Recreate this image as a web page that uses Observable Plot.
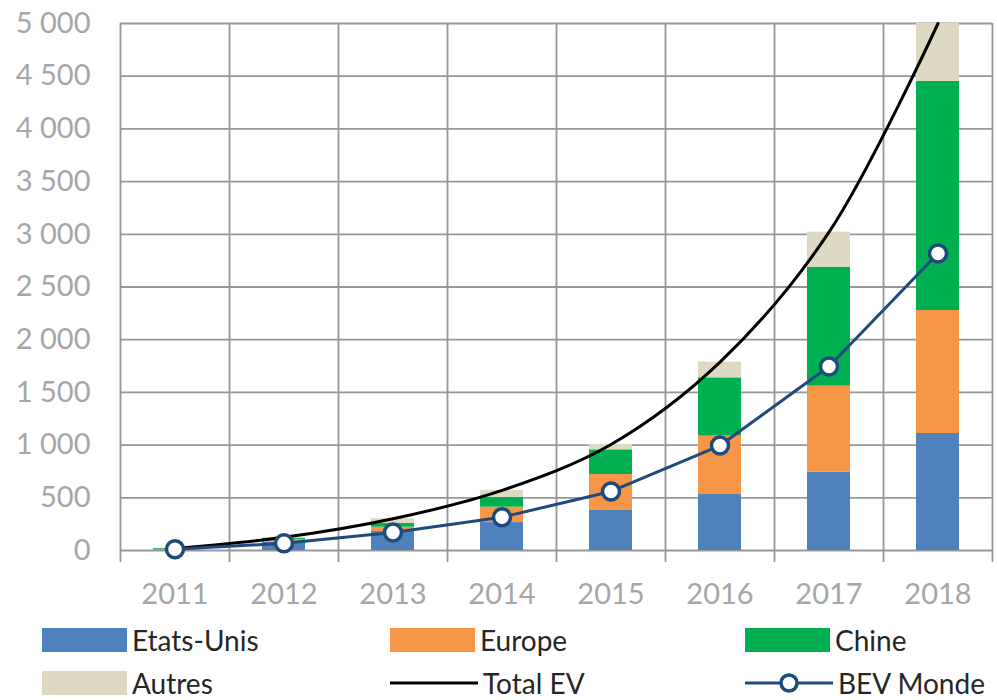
<!DOCTYPE html>
<html>
<head>
<meta charset="utf-8">
<script src="https://cdn.jsdelivr.net/npm/d3@7"></script>
<script src="https://cdn.jsdelivr.net/npm/@observablehq/plot@0.6"></script>
<style>
  html, body { margin: 0; padding: 0; background: white; }
  #wrap { position: relative; width: 997px; height: 700px; overflow: hidden; font-family: Lato, sans-serif; }
  #chart svg { display: block; }
  .leg { position: absolute; height: 28px; display: flex; align-items: center; font-size: 28px; line-height: 28px; color: #262626; white-space: nowrap; }
  .leg svg { display: block; margin-right: 5px; }
</style>
</head>
<body>
<div id="wrap">
  <div id="chart"></div>
  <div id="legend"></div>
</div>
<script>
// ---- Data (thousands of vehicles) ----
const years = ["2011", "2012", "2013", "2014", "2015", "2016", "2017", "2018"];
const etatsUnis = [6, 80, 180, 265, 380, 531, 743, 1110];
const europe    = [4, 25, 41, 146, 341, 554, 816, 1167];
const chine     = [8, 10, 35, 94, 234, 553, 1129, 2173];
const autres    = [2, 10, 45, 65, 51, 149, 332, 550];
const totalEV   = [20, 125, 301, 570, 1006, 1787, 3020, 5000];
const bevMonde  = [12, 69, 171, 316, 560, 996, 1746, 2818];
const yTicks    = [0, 500, 1000, 1500, 2000, 2500, 3000, 3500, 4000, 4500, 5000];

const seriesNames  = ["Etats-Unis", "Europe", "Chine", "Autres"];
const seriesColors = ["#4f81bd", "#f79646", "#00b050", "#ddd9c3"];
const seriesValues = [etatsUnis, europe, chine, autres];

const stackData = seriesNames.flatMap((s, si) =>
  years.map((y, i) => ({year: y, serie: s, value: seriesValues[si][i]})));
const lineData = years.map((y, i) => ({year: y, total: totalEV[i], bev: bevMonde[i]}));

const W = 997, H = 610, ML = 120, MR = 5, MT = 23, MB = 60;
const bw = (W - ML - MR) / years.length;
const gridColor = "#979797";
const tickColor = "#a6a6a6";
const bevColor = "#1f4a7c";
const fmt = d => d3.format(",")(d).replace(/,/g, " ");

const chart = Plot.plot({
  width: W, height: H,
  marginLeft: ML, marginRight: MR, marginTop: MT, marginBottom: MB,
  style: {fontFamily: "Lato, sans-serif", background: "white", overflow: "visible"},
  x: {domain: years, padding: 0, axis: null},
  y: {domain: [0, 5000], axis: null},
  color: {domain: seriesNames, range: seriesColors},
  marks: [
    Plot.ruleY(yTicks, {y: d => d, stroke: gridColor, strokeWidth: 1.8}),
    Plot.ruleX(years, {x: d => d, dx: -bw / 2, stroke: gridColor, strokeWidth: 1.8, insetBottom: -12}),
    Plot.ruleX([years[years.length - 1]], {x: d => d, dx: bw / 2, stroke: gridColor, strokeWidth: 1.8, insetBottom: -12}),
    Plot.barY(stackData, {x: "year", y: "value", fill: "serie", insetLeft: 33, insetRight: 33}),
    Plot.line(lineData, {x: "year", y: "total", stroke: "black", strokeWidth: 3, curve: "catmull-rom"}),
    Plot.line(lineData, {x: "year", y: "bev", stroke: bevColor, strokeWidth: 3}),
    Plot.dot(lineData, {x: "year", y: "bev", r: 8.5, fill: "white", stroke: bevColor, strokeWidth: 3.5}),
    Plot.axisY(yTicks, {tickSize: 0, tickPadding: 30, tickFormat: fmt, fontSize: 29, fill: tickColor}),
    Plot.axisX({tickSize: 0, tickPadding: 33, fontSize: 29, fill: tickColor, label: null})
  ]
});
document.getElementById("chart").appendChild(chart);

// ---- Legend ----
const legendItems = [
  {label: "Etats-Unis", type: "rect", color: seriesColors[0], x: 42, y: 640},
  {label: "Europe", type: "rect", color: seriesColors[1], x: 390, y: 640},
  {label: "Chine", type: "rect", color: seriesColors[2], x: 745, y: 640},
  {label: "Autres", type: "rect", color: seriesColors[3], x: 42, y: 683},
  {label: "Total EV", type: "line", color: "black", x: 390, y: 683},
  {label: "BEV Monde", type: "dotline", color: bevColor, x: 745, y: 683}
];
const legend = document.getElementById("legend");
for (const it of legendItems) {
  const div = document.createElement("div");
  div.className = "leg";
  div.style.left = it.x + "px";
  div.style.top = (it.y - 14) + "px";
  let sw;
  if (it.type === "rect") {
    sw = `<svg width="85" height="24"><rect x="0" y="0" width="85" height="24" fill="${it.color}"/></svg>`;
  } else if (it.type === "line") {
    sw = `<svg width="88" height="24"><line x1="0" x2="88" y1="12" y2="12" stroke="${it.color}" stroke-width="3"/></svg>`;
  } else {
    sw = `<svg width="88" height="24"><line x1="0" x2="88" y1="12" y2="12" stroke="${it.color}" stroke-width="3"/><circle cx="44" cy="12" r="8" fill="white" stroke="${it.color}" stroke-width="3.5"/></svg>`;
  }
  div.innerHTML = sw + `<span>${it.label}</span>`;
  legend.appendChild(div);
}
</script>
</body>
</html>
